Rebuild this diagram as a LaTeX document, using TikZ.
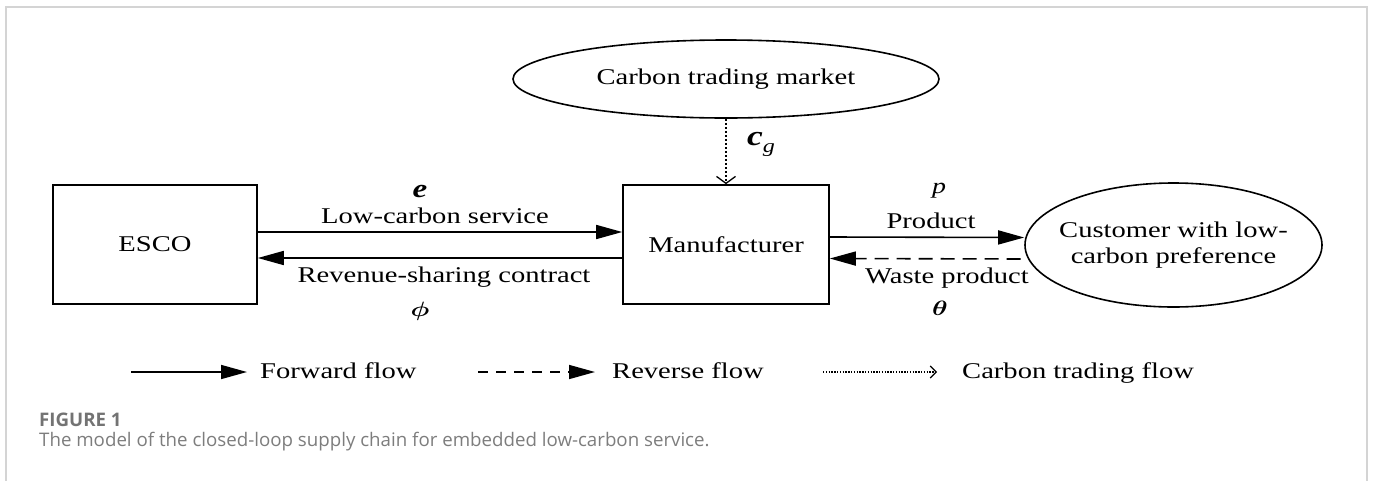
\documentclass[tikz,border=0pt]{standalone}
\usepackage{fontspec}
\usepackage{amsmath}
\setmainfont{Liberation Serif}[FakeStretch=1.27]
\newfontfamily\capfont{Open Sans}
\usetikzlibrary{shapes.geometric, arrows.meta, positioning, calc}
\definecolor{frameGray}{RGB}{212,212,212}
\definecolor{capGray}{RGB}{125,125,125}
\definecolor{capDark}{RGB}{115,115,115}

\newcommand{\diagfont}{\fontsize{22.5}{26}\selectfont}
\newcommand{\symfont}{\fontsize{26}{30}\selectfont\itshape}

\tikzset{
	box/.style={draw, line width=1.6pt, minimum width=204pt, minimum height=119pt, inner sep=0pt, font=\diagfont},
	oval/.style={draw, ellipse, line width=1.6pt, inner sep=0pt, align=center, font=\diagfont},
	fwd/.style={line width=1.6pt, -{Triangle[length=26pt, width=14pt]}},
	rev/.style={fwd, dash pattern=on 14pt off 8pt},
	carb/.style={line width=1.3pt, dash pattern=on 2pt off 2pt, -{Straight Barb[length=7pt, width=19pt, line width=1.3pt]}},
	lbl/.style={anchor=base, font=\diagfont, inner sep=0pt},
	sym/.style={anchor=base, font=\symfont, inner sep=0pt},
}

\begin{document}
\begin{tikzpicture}[x=1pt, y=-1pt]

	\useasboundingbox (0,0) rectangle (1373,480);

% Frame.

	\draw[frameGray, line width=2pt] (6,482) -- (6,7) -- (1367,7) -- (1367,482);

% Define nodes.

	%actors
	\node[box] (esco) at (155,244.5) {ESCO};
	\node[box, minimum width=206pt] (manu) at (726,244.5) {Manufacturer};
	\node[oval, minimum width=426pt, minimum height=78pt] (market) at (726,79) {Carbon trading market};
	\node[oval, inner xsep=-10pt, minimum width=297pt, minimum height=124pt] (cust) at (1173.5,245) {Customer with low-\\carbon preference};

% Draw flows.

	\draw[fwd] ([yshift=12.5pt]esco.east) -- ([yshift=12.5pt]manu.west);
	\draw[fwd] ([yshift=-13.5pt]manu.west) -- ([yshift=-13.5pt]esco.east);
	\draw[fwd] ([yshift=7.5pt]manu.east) -- ([yshift=7.5pt]cust.west);
	\draw[rev, shorten <=3.5pt] ([yshift=-14pt]cust.west) -- ([yshift=-14pt]manu.east);
	\draw[carb] (market.south) -- (manu.north);

% Draw flow labels.

	\node[sym, font=\symfont\bfseries] (eLbl) at (420,197) {e};
	\node[lbl] (serviceLbl) at (435,223) {Low-carbon service};
	\node[lbl] (contractLbl) at (444,282) {Revenue-sharing contract};
	\node[inner sep=0pt, font=\diagfont] (phiLbl) at (420,311) {\scalebox{1.27}[1]{$\boldsymbol{\phi}$}};
	\node[sym, font=\fontsize{22}{26}\selectfont\itshape] (pLbl) at (939,193) {p};
	\node[lbl] (productLbl) at (931,228) {Product};
	\node[lbl] (wasteLbl) at (947,283) {Waste product};
	\node[inner sep=0pt, font=\diagfont] (thetaLbl) at (940,308) {\scalebox{1.27}[1]{$\boldsymbol{\theta}$}};
	\node[sym, anchor=base west, font=\fontsize{28}{30}\selectfont\itshape\bfseries] (cgLbl) at (747,145) {c\raisebox{-7pt}{\fontsize{19}{22}\selectfont\mdseries g}};

% Draw legend.

	\coordinate (fwdTail) at (131,372);
	\coordinate (fwdHead) at (247,372);
	\coordinate (revTail) at (478,372);
	\coordinate (revHead) at (595,372);
	\coordinate (carbTail) at (823,372);
	\coordinate (carbHead) at (937,372);

	\node[lbl, anchor=base west] (fwdTxt) at (260,378) {Forward flow};
	\node[lbl, anchor=base west] (revTxt) at (612,378) {Reverse flow};
	\node[lbl, anchor=base west] (carbTxt) at (962,378) {Carbon trading flow};

	\draw[fwd] (fwdTail) -- (fwdHead);
	\draw[rev, dash pattern=on 10pt off 8pt] (revTail) -- (revHead);
	\draw[carb, line width=1.1pt, dash pattern=on 1.4pt off 1.4pt, -{Straight Barb[length=6pt, width=12pt, line width=1.1pt]}] (carbTail) -- (carbHead);

% Draw caption.

	\node[anchor=base west, inner sep=0pt, text=capDark, font=\capfont\fontsize{18.7}{22}\selectfont\bfseries] (figNum) at (39,426) {FIGURE 1};
	\node[anchor=base west, inner sep=0pt, text=capGray, font=\capfont\fontsize{18.7}{22}\selectfont] (figCap) at (39,446) {The model of the closed-loop supply chain for embedded low-carbon service.};

\end{tikzpicture}
\end{document}
